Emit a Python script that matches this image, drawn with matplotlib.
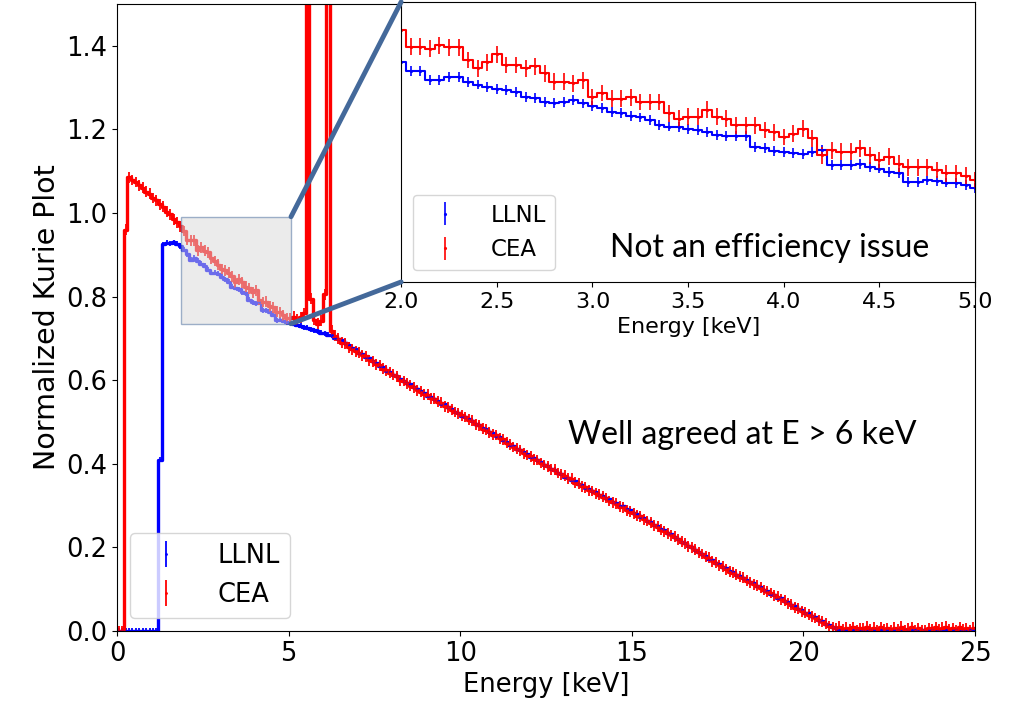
import numpy as np
import matplotlib.pyplot as plt
from matplotlib.patches import Rectangle, ConnectionPatch

plt.rcParams["font.family"] = ["DejaVu Sans"]

# --- main spectrum, 0.1 keV bins (centres 0.05 ... 24.95) ---
energy_main = np.round(np.arange(250) * 0.1 + 0.05, 2)

llnl_main = [
    0.0, 0.0, 0.0, 0.0, 0.0, 0.0, 0.0, 0.0, 0.0, 0.0,
    0.0, 0.0, 0.41, 0.925, 0.929, 0.927, 0.930, 0.926, 0.921, 0.912,
    0.901, 0.888, 0.893, 0.886, 0.878, 0.874, 0.864, 0.857, 0.857, 0.855,
    0.848, 0.841, 0.835, 0.824, 0.821, 0.817, 0.810, 0.808, 0.793, 0.787,
    0.784, 0.786, 0.767, 0.767, 0.764, 0.757, 0.743, 0.745, 0.742, 0.738,
    0.737, 0.735, 0.733, 0.730, 0.727, 0.725, 0.722, 0.720, 0.717, 0.714,
    0.712, 0.709, 0.707, 0.702, 0.699, 0.695, 0.688, 0.685, 0.677, 0.674,
    0.666, 0.663, 0.656, 0.652, 0.645, 0.642, 0.634, 0.631, 0.623, 0.620,
    0.613, 0.610, 0.603, 0.599, 0.593, 0.590, 0.583, 0.579, 0.573, 0.570,
    0.563, 0.560, 0.554, 0.551, 0.544, 0.542, 0.535, 0.532, 0.525, 0.522,
    0.515, 0.512, 0.506, 0.503, 0.495, 0.493, 0.485, 0.483, 0.475, 0.473,
    0.466, 0.463, 0.456, 0.453, 0.446, 0.443, 0.436, 0.433, 0.427, 0.424,
    0.417, 0.414, 0.408, 0.405, 0.397, 0.395, 0.388, 0.386, 0.379, 0.376,
    0.369, 0.367, 0.361, 0.358, 0.352, 0.349, 0.343, 0.340, 0.334, 0.332,
    0.326, 0.323, 0.317, 0.315, 0.309, 0.306, 0.299, 0.298, 0.291, 0.289,
    0.282, 0.280, 0.273, 0.270, 0.264, 0.261, 0.254, 0.251, 0.244, 0.241,
    0.234, 0.231, 0.224, 0.221, 0.214, 0.211, 0.204, 0.200, 0.193, 0.190,
    0.183, 0.180, 0.173, 0.170, 0.163, 0.160, 0.153, 0.150, 0.144, 0.141,
    0.135, 0.132, 0.126, 0.123, 0.117, 0.114, 0.108, 0.105, 0.098, 0.096,
    0.089, 0.087, 0.080, 0.078, 0.071, 0.069, 0.062, 0.060, 0.053, 0.051,
    0.044, 0.042, 0.035, 0.033, 0.026, 0.023, 0.017, 0.014, 0.009, 0.006,
    0.003, 0.002, 0.003, 0.001, 0.002, 0.003, 0.001, 0.002, 0.001, 0.002,
    0.002, 0.001, 0.003, 0.001, 0.002, 0.001, 0.003, 0.002, 0.001, 0.002,
    0.001, 0.003, 0.002, 0.001, 0.002, 0.001, 0.002, 0.003, 0.001, 0.002,
    0.001, 0.002, 0.001, 0.003, 0.002, 0.001, 0.002, 0.001, 0.003, 0.002,
]

cea_main = [
    0.0, 0.0, 0.96, 1.085, 1.079, 1.074, 1.066, 1.060, 1.051, 1.046,
    1.036, 1.030, 1.021, 1.015, 1.003, 0.997, 0.985, 0.978, 0.968, 0.957,
    0.936, 0.935, 0.935, 0.911, 0.918, 0.910, 0.906, 0.892, 0.885, 0.876,
    0.866, 0.863, 0.857, 0.849, 0.834, 0.841, 0.834, 0.824, 0.820, 0.810,
    0.815, 0.793, 0.787, 0.788, 0.777, 0.774, 0.764, 0.762, 0.755, 0.748,
    0.748, 0.752, 0.745, 0.750, 0.760, 2.600, 0.795, 0.745, 0.735, 0.742,
    0.805, 2.400, 0.718, 0.706, 0.699, 0.690, 0.688, 0.679, 0.674, 0.669,
    0.666, 0.660, 0.657, 0.648, 0.645, 0.638, 0.636, 0.627, 0.624, 0.618,
    0.613, 0.609, 0.600, 0.598, 0.593, 0.587, 0.583, 0.576, 0.572, 0.566,
    0.565, 0.557, 0.556, 0.548, 0.546, 0.538, 0.535, 0.529, 0.524, 0.521,
    0.516, 0.512, 0.505, 0.503, 0.495, 0.492, 0.484, 0.482, 0.475, 0.470,
    0.469, 0.461, 0.459, 0.450, 0.447, 0.440, 0.436, 0.432, 0.425, 0.421,
    0.418, 0.411, 0.409, 0.402, 0.397, 0.394, 0.387, 0.386, 0.378, 0.375,
    0.371, 0.365, 0.364, 0.355, 0.352, 0.346, 0.344, 0.337, 0.335, 0.329,
    0.326, 0.321, 0.318, 0.311, 0.308, 0.304, 0.297, 0.296, 0.289, 0.285,
    0.282, 0.276, 0.274, 0.267, 0.263, 0.259, 0.253, 0.249, 0.242, 0.239,
    0.234, 0.229, 0.225, 0.219, 0.214, 0.210, 0.203, 0.200, 0.194, 0.188,
    0.184, 0.178, 0.175, 0.167, 0.163, 0.157, 0.154, 0.148, 0.142, 0.139,
    0.135, 0.130, 0.127, 0.120, 0.117, 0.112, 0.108, 0.103, 0.098, 0.094,
    0.091, 0.085, 0.082, 0.076, 0.072, 0.066, 0.063, 0.056, 0.053, 0.047,
    0.044, 0.039, 0.035, 0.031, 0.026, 0.022, 0.017, 0.012, 0.009, 0.006,
    0.010, 0.004, 0.008, 0.003, 0.009, 0.002, 0.007, 0.005, 0.010, 0.003,
    0.008, 0.002, 0.009, 0.004, 0.006, 0.001, 0.008, 0.003, 0.010, 0.002,
    0.005, 0.009, 0.001, 0.007, 0.002, 0.001, 0.006, 0.003, 0.009, 0.004,
    0.008, 0.010, 0.003, 0.007, 0.002, 0.009, 0.004, 0.006, 0.001, 0.008,
]

# --- zoomed region, 0.05 keV bins (2.00 ... 5.00) ---
energy_zoom = np.round(np.arange(61) * 0.05 + 2.0, 2)

llnl_zoom = [
    0.914, 0.901, 0.901, 0.888, 0.888, 0.893, 0.893, 0.886, 0.882, 0.878,
    0.876, 0.874, 0.871, 0.864, 0.863, 0.857, 0.856, 0.857, 0.860, 0.855,
    0.851, 0.848, 0.843, 0.841, 0.837, 0.835, 0.831, 0.824, 0.822, 0.821,
    0.819, 0.817, 0.814, 0.810, 0.808, 0.808, 0.808, 0.793, 0.791, 0.787,
    0.786, 0.784, 0.783, 0.786, 0.788, 0.767, 0.767, 0.767, 0.768, 0.764,
    0.762, 0.757, 0.756, 0.743, 0.743, 0.745, 0.744, 0.742, 0.741, 0.738,
    0.734,
]

cea_zoom = [
    0.960, 0.936, 0.936, 0.933, 0.938, 0.935, 0.935, 0.917, 0.905, 0.914,
    0.925, 0.910, 0.910, 0.905, 0.908, 0.898, 0.886, 0.886, 0.884, 0.888,
    0.864, 0.870, 0.862, 0.862, 0.864, 0.857, 0.857, 0.857, 0.841, 0.833,
    0.836, 0.836, 0.846, 0.836, 0.833, 0.824, 0.824, 0.824, 0.817, 0.814,
    0.807, 0.812, 0.819, 0.805, 0.781, 0.788, 0.786, 0.786, 0.791, 0.781,
    0.774, 0.779, 0.769, 0.764, 0.764, 0.764, 0.760, 0.755, 0.755, 0.752,
    0.745,
]

LLNL_ERR = 0.006
CEA_ERR = 0.013
LLNL_ERR_ZOOM = 0.007
CEA_ERR_ZOOM = 0.012

fig = plt.figure(figsize=(10.13, 7.12), dpi=100)

# --- main axes ---
ax = fig.add_axes([0.1155, 0.1138, 0.847, 0.8806])
ax.step(energy_main, llnl_main, where="mid", color="blue", lw=2.4)
ax.errorbar(energy_main, llnl_main, yerr=LLNL_ERR, fmt=".", color="blue",
            ms=2, elinewidth=1.3, label="LLNL")
ax.step(energy_main, cea_main, where="mid", color="red", lw=2.4)
ax.errorbar(energy_main, cea_main, yerr=CEA_ERR, fmt=".", color="red",
            ms=2, elinewidth=1.3, label="CEA")
ax.set_xlim(0, 25)
ax.set_ylim(0, 1.5)
ax.set_yticks([0.0, 0.2, 0.4, 0.6, 0.8, 1.0, 1.2, 1.4])
ax.tick_params(labelsize=18.5)
ax.set_xlabel("Energy [keV]", fontsize=18.5)
ax.set_ylabel("Normalized Kurie Plot", fontsize=20.5)
ax.legend(loc="lower left", fontsize=18.5, handletextpad=1.0)

# zoom box
box = Rectangle((1.87, 0.735), 3.2, 0.256, facecolor="#d8d8d8", alpha=0.5,
                edgecolor="#44699a", lw=1.0, zorder=5)
ax.add_patch(box)

# --- inset axes ---
axins = fig.add_axes([0.396, 0.604, 0.5666, 0.3933])
axins.step(energy_zoom, llnl_zoom, where="mid", color="blue", lw=1.5)
axins.errorbar(energy_zoom, llnl_zoom, yerr=LLNL_ERR_ZOOM, fmt=".", color="blue",
               ms=2.5, elinewidth=1.2, label="LLNL")
axins.step(energy_zoom, cea_zoom, where="mid", color="red", lw=1.5)
axins.errorbar(energy_zoom, cea_zoom, yerr=CEA_ERR_ZOOM, fmt=".", color="red",
               ms=2.5, elinewidth=1.2, label="CEA")
axins.set_xlim(2.0, 5.0)
axins.set_ylim(0.6, 1.0)
axins.set_yticks([])
axins.tick_params(labelsize=16)
axins.set_xlabel("Energy [keV]", fontsize=16)
axins.legend(loc="lower left", fontsize=16.5, handletextpad=1.0)

# connectors from zoom box to inset
for xy_box, xy_ins in [((5.07, 0.991), (0.0, 1.0)), ((5.07, 0.735), (0.0, 0.0))]:
    con = ConnectionPatch(xyA=xy_box, coordsA=ax.transData,
                          xyB=xy_ins, coordsB=axins.transAxes,
                          color="#44699a", lw=3.5, zorder=10)
    fig.add_artist(con)

# slide annotations
fig.text(0.760, 0.652, "Not an efficiency issue", fontsize=23, family="Lato",
         ha="center", va="center")
fig.text(0.733, 0.389, "Well agreed at E > 6 keV", fontsize=23, family="Lato",
         ha="center", va="center")

fig.savefig("out.png", dpi=100)
